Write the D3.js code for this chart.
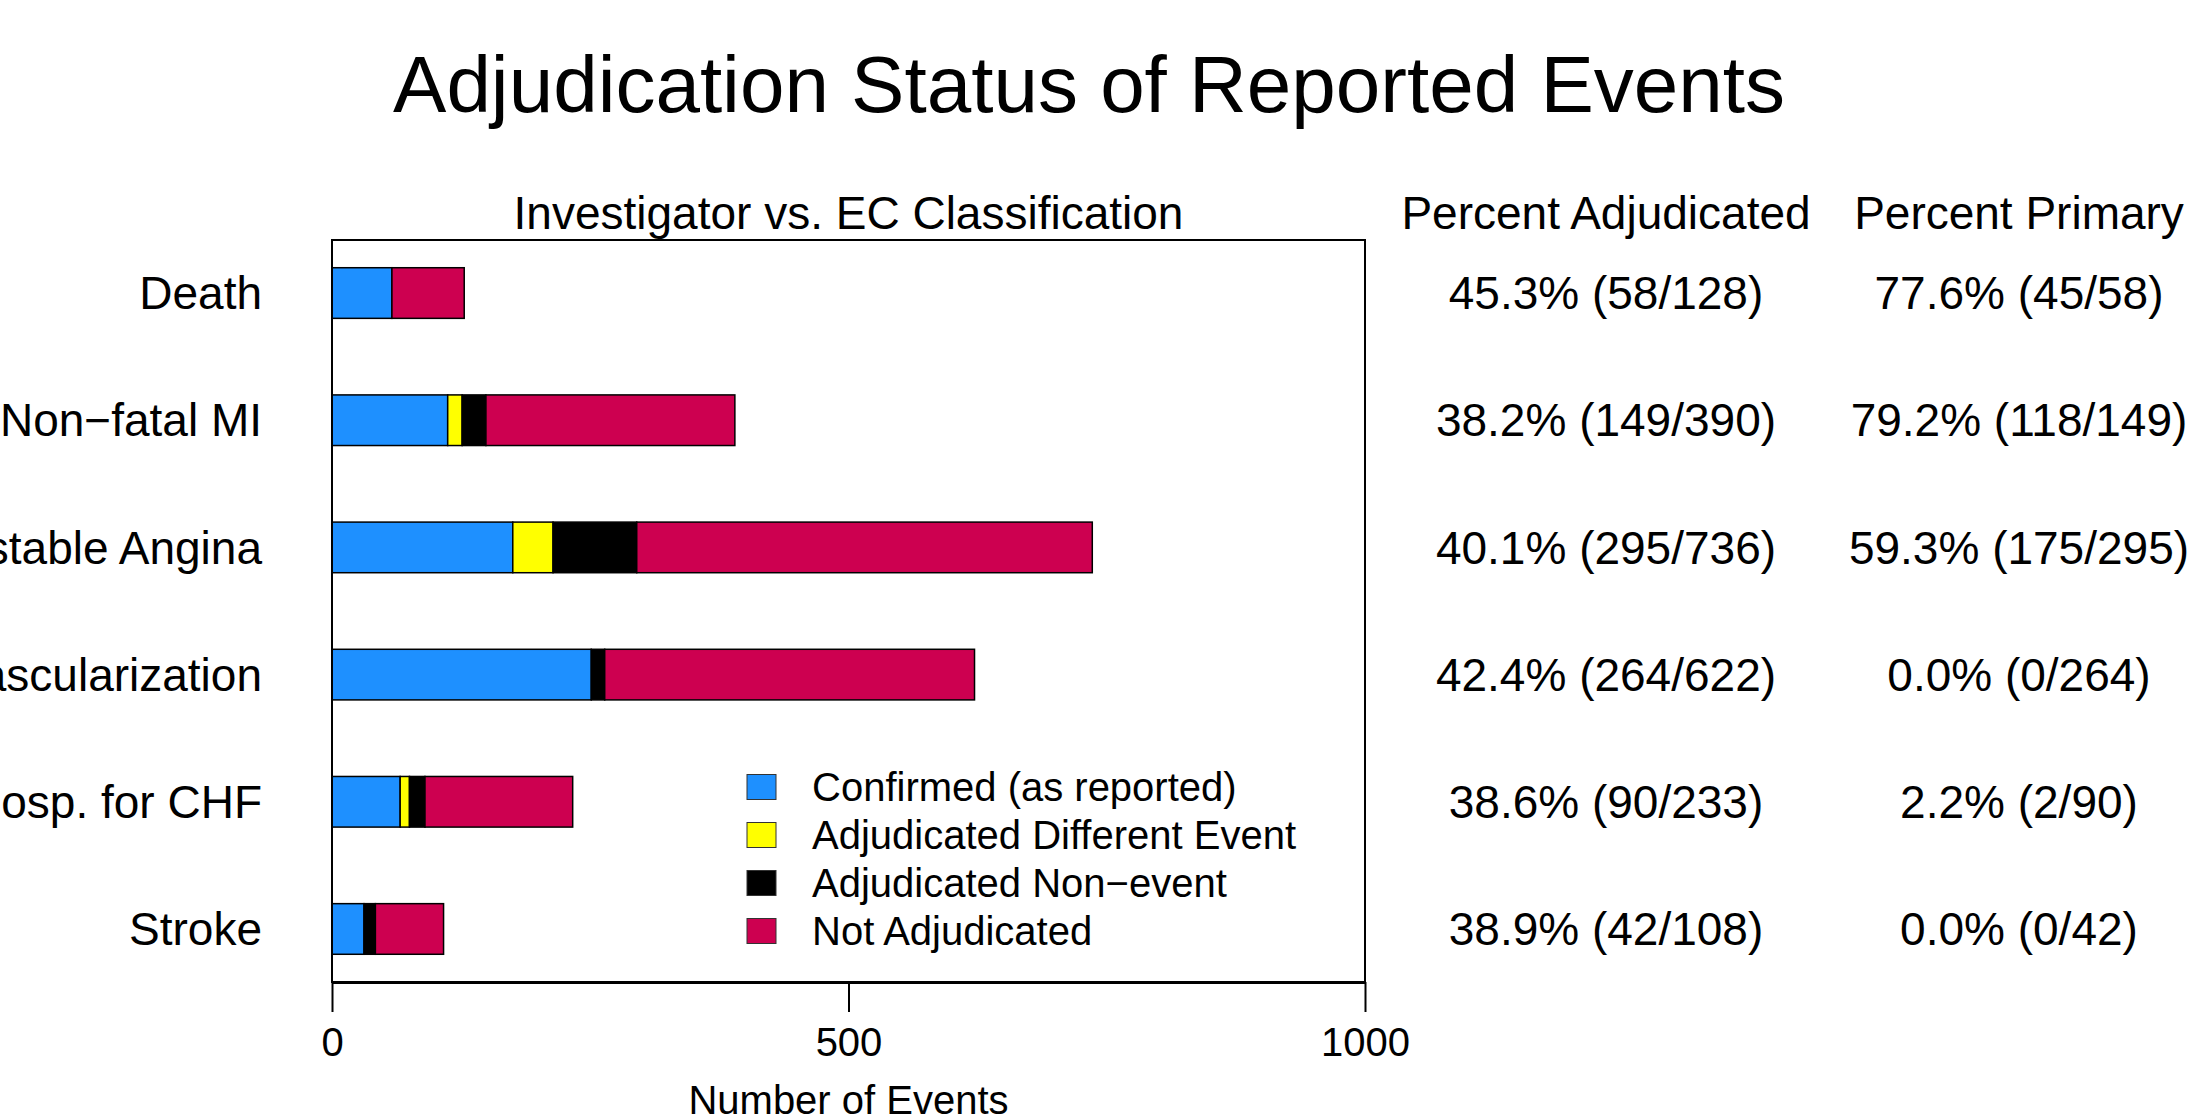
<!DOCTYPE html>
<html>
<head>
<meta charset="utf-8">
<script src="https://cdn.jsdelivr.net/npm/d3@7"></script>
<style>
  body { margin: 0; background: #fff; }
  text { font-family: "Liberation Sans", Arial, sans-serif; fill: #000; }
</style>
</head>
<body>
<div id="chart"></div>
<script>
// event categories, top to bottom
var categories = ["Death", "Non\u2212fatal MI", "Unstable Angina", "Revascularization", "Hosp. for CHF", "Stroke"]

// counts per status
var confirmed     = [58, 112, 175, 251, 66, 31]
var differentEvt  = [0, 14, 39, 0, 9, 0]
var nonEvent      = [0, 23, 81, 13, 15, 11]
var notAdjudicated = [70, 241, 441, 358, 143, 66]

// right-hand table
var adjudicated = [58, 149, 295, 264, 90, 42]
var totals      = [128, 390, 736, 622, 233, 108]
var primary     = [45, 118, 175, 0, 2, 0]

var statusLabels = ["Confirmed (as reported)", "Adjudicated Different Event", "Adjudicated Non\u2212event", "Not Adjudicated"]
var statusColors = ["#1E90FF", "#FFFF00", "#000000", "#CD0050"]
var xTicks = [0, 500, 1000]

var width = 2200, height = 1117
var plot = {left: 332, right: 1365, top: 240, bottom: 982}

var svg = d3.select("#chart").append("svg")
  .attr("width", width)
  .attr("height", height)

// build rows for the stack
var keys = ["confirmed", "different", "nonevent", "notadj"]
var rows = categories.map(function(c, i) {
  return {cat: c, confirmed: confirmed[i], different: differentEvt[i], nonevent: nonEvent[i], notadj: notAdjudicated[i]}
})
var series = d3.stack().keys(keys)(rows)

var x = d3.scaleLinear().domain([0, 1000]).range([plot.left, plot.right])
var y = d3.scaleBand().domain(categories).range([plot.top, plot.bottom])
  .paddingInner(0.602).paddingOuter(0.218)

// title
svg.append("text")
  .attr("x", 1089).attr("y", 112)
  .attr("text-anchor", "middle")
  .style("font-size", "80px")
  .text("Adjudication Status of Reported Events")

svg.append("text")
  .attr("x", (plot.left + plot.right) / 2).attr("y", 229)
  .attr("text-anchor", "middle")
  .style("font-size", "46px")
  .text("Investigator vs. EC Classification")

svg.append("text")
  .attr("x", 1606).attr("y", 229)
  .attr("text-anchor", "middle")
  .style("font-size", "46px")
  .text("Percent Adjudicated")

svg.append("text")
  .attr("x", 2019).attr("y", 229)
  .attr("text-anchor", "middle")
  .style("font-size", "46px")
  .text("Percent Primary")

// bars
svg.append("g").selectAll("g")
  .data(series)
  .enter().append("g")
  .attr("fill", function(d, i) { return statusColors[i] })
  .selectAll("rect")
  .data(function(d) { return d.filter(function(s) { return s[1] > s[0] }) })
  .enter().append("rect")
  .attr("x", function(d) { return x(d[0]) })
  .attr("width", function(d) { return x(d[1]) - x(d[0]) })
  .attr("y", function(d) { return y(d.data.cat) })
  .attr("height", y.bandwidth())
  .attr("stroke", "#000")
  .attr("stroke-width", 1.5)

// plot box
svg.append("rect")
  .attr("x", plot.left).attr("y", plot.top)
  .attr("width", plot.right - plot.left)
  .attr("height", plot.bottom - plot.top)
  .attr("fill", "none")
  .attr("stroke", "#000")
  .attr("stroke-width", 2)

// category labels (long ones run off the left edge, as in the original)
svg.append("g").selectAll("text")
  .data(categories)
  .enter().append("text")
  .attr("x", 262)
  .attr("y", function(d) { return y(d) + y.bandwidth() / 2 })
  .attr("dy", "0.35em")
  .attr("text-anchor", "end")
  .style("font-size", "46px")
  .text(function(d) { return d })

// x axis
var xAxis = svg.append("g")
  .attr("transform", "translate(0," + plot.bottom + ")")
  .call(d3.axisBottom(x).tickValues(xTicks).tickSize(30).tickSizeOuter(0).tickPadding(16)
    .tickFormat(d3.format("d")))
xAxis.select(".domain").attr("stroke-width", 3)
xAxis.selectAll(".tick line").attr("stroke-width", 2)
xAxis.selectAll(".tick text").style("font-size", "40px").attr("font-family", null)

svg.append("text")
  .attr("x", (plot.left + plot.right) / 2).attr("y", 1114)
  .attr("text-anchor", "middle")
  .style("font-size", "40px")
  .text("Number of Events")

// legend
var legend = svg.append("g").selectAll("g")
  .data(statusLabels)
  .enter().append("g")
  .attr("transform", function(d, i) { return "translate(747," + (787 + i * 48) + ")" })

legend.append("rect")
  .attr("x", 0).attr("y", -12.5)
  .attr("width", 29).attr("height", 25)
  .attr("fill", function(d, i) { return statusColors[i] })
  .attr("stroke", "#333")
  .attr("stroke-width", 1)

legend.append("text")
  .attr("x", 65).attr("y", 0)
  .attr("dy", "0.35em")
  .style("font-size", "40px")
  .text(function(d) { return d })

// table columns
var pct = d3.format(".1f")
svg.append("g").selectAll("text")
  .data(categories)
  .enter().append("text")
  .attr("x", 1606)
  .attr("y", function(d) { return y(d) + y.bandwidth() / 2 })
  .attr("dy", "0.35em")
  .attr("text-anchor", "middle")
  .style("font-size", "46px")
  .text(function(d, i) { return pct(adjudicated[i] / totals[i] * 100) + "% (" + adjudicated[i] + "/" + totals[i] + ")" })

svg.append("g").selectAll("text")
  .data(categories)
  .enter().append("text")
  .attr("x", 2019)
  .attr("y", function(d) { return y(d) + y.bandwidth() / 2 })
  .attr("dy", "0.35em")
  .attr("text-anchor", "middle")
  .style("font-size", "46px")
  .text(function(d, i) { return pct(primary[i] / adjudicated[i] * 100) + "% (" + primary[i] + "/" + adjudicated[i] + ")" })
</script>
</body>
</html>
